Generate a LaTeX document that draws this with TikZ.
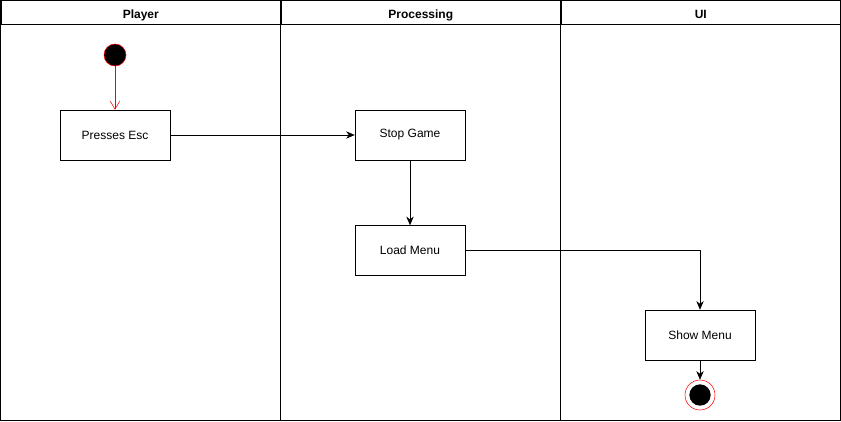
\documentclass[tikz,border=0pt]{standalone}
\usepackage{fontspec}
\setmainfont{Liberation Sans}
\usetikzlibrary{arrows.meta,positioning}

\begin{document}
\begin{tikzpicture}[x=0.75pt, y=-0.75pt,
  lane/.style={draw, minimum width=210pt, minimum height=17.25pt,
               font=\fontsize{9}{11}\selectfont\bfseries, inner sep=0pt,
               text depth=0pt, text height=9pt},
  act/.style={draw, fill=white, minimum width=82.5pt, minimum height=37.5pt,
              font=\fontsize{9}{11}\selectfont, inner sep=0pt},
  arr/.style={-{Stealth[length=6.5pt, width=5.5pt]}, black},
  startarr/.style={-{Straight Barb[length=6pt, width=7pt]}, red}
]
\useasboundingbox (0,0) rectangle (841,421);

% swimlanes
\draw (0.5,0.5) rectangle (840.5,420.5);
\draw (280.5,0.5) -- (280.5,420.5);
\draw (560.5,0.5) -- (560.5,420.5);
\node[lane, anchor=north west] (player) at (0.5,0.5) {Player};
\node[lane, anchor=north west] (proc) at (280.5,0.5) {Processing};
\node[lane, anchor=north west] (ui) at (560.5,0.5) {UI};

% start and end
\node[circle, draw=red, fill=black, minimum size=16.5pt, inner sep=0pt] (start) at (115,55) {};
\node[circle, draw=red, fill=white, minimum size=22.5pt, inner sep=0pt] (end) at (700,395) {};
\node[circle, fill=black, minimum size=16pt, inner sep=0pt] at (end) {};

% activities
\node[act] (esc) at (115,135) {Presses Esc};
\node[act] (stop) at (410,135) {Stop Game};
\node[act, below=48.75pt of stop] (load) {Load Menu};
\node[act] (show) at (700,335) {Show Menu};

% flow
\draw[startarr] (start) -- (esc);
\draw[arr] (esc) -- (stop);
\draw[arr] (stop) -- (load);
\draw[arr] (load.east) -| (show.north);
\draw[arr] (show) -- (end);

\end{tikzpicture}
\end{document}
